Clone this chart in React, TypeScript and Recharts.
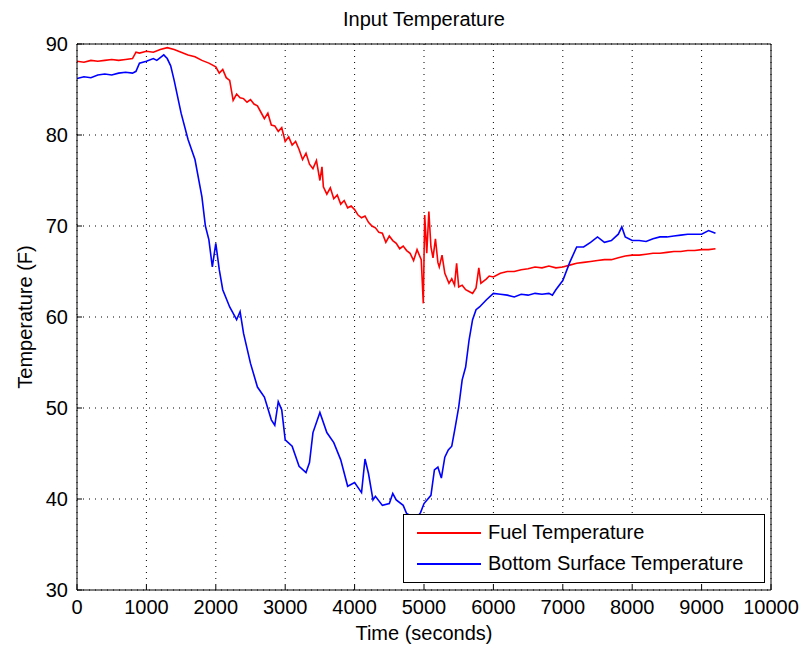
import React from "react";
import {
    LineChart,
    Line,
    XAxis,
    YAxis,
    CartesianGrid,
    Legend,
    Label,
} from "recharts";

// Fuel temperature (red)
const fuelTime = [
    0, 100, 200, 300, 400, 500, 600, 700, 800, 850, 900, 1000, 1100, 1200, 1300, 1400, 1500, 1600, 1700,
    1800, 1900, 2000, 2050, 2100, 2150, 2200, 2250, 2300, 2350, 2400, 2450, 2500, 2550, 2600, 2650, 2700,
    2750, 2800, 2850, 2900, 2950, 3000, 3050, 3100, 3150, 3200, 3250, 3300, 3350, 3400, 3450, 3500, 3530,
    3550, 3600, 3650, 3700, 3750, 3800, 3850, 3900, 3950, 4000, 4050, 4100, 4150, 4200, 4250, 4300, 4350,
    4400, 4450, 4500, 4550, 4600, 4650, 4700, 4750, 4800, 4850, 4900, 4960, 4990, 5010, 5040, 5070, 5100,
    5130, 5165, 5200, 5220, 5260, 5300, 5360, 5400, 5440, 5470, 5500, 5550, 5600, 5650, 5700, 5750, 5790,
    5820, 5900, 5940, 6000, 6100, 6200, 6300, 6400, 6500, 6600, 6700, 6800, 6900, 7000, 7100, 7200, 7300,
    7400, 7500, 7600, 7700, 7800, 7900, 8000, 8100, 8200, 8300, 8400, 8500, 8600, 8700, 8800, 8900, 9000,
    9100, 9200,
];
const fuelTemp = [
    88.1, 88.0, 88.2, 88.1, 88.2, 88.3, 88.2, 88.3, 88.4, 89.1, 89.0, 89.2, 89.1, 89.4, 89.6, 89.4, 89.1, 88.8, 88.6,
    88.2, 87.9, 87.5, 86.8, 87.2, 86.3, 86.0, 83.8, 84.5, 84.1, 84.0, 83.6, 83.9, 83.4, 83.2, 82.5, 81.8,
    82.4, 81.1, 81.0, 80.4, 80.8, 79.3, 79.8, 78.9, 79.3, 78.4, 77.3, 78.0, 76.8, 76.3, 77.2, 75.0, 76.5,
    74.3, 73.5, 74.2, 73.0, 73.4, 72.4, 72.8, 72.0, 72.2, 71.8, 71.2, 70.9, 71.1, 70.4, 70.0, 69.8, 69.3,
    69.2, 68.2, 68.9, 68.4, 68.1, 67.5, 67.8, 67.3, 67.0, 66.2, 67.4, 66.3, 61.5, 71.2, 67.0, 71.6, 67.7,
    66.5, 68.6, 66.0, 65.5, 66.8, 64.8, 63.7, 64.2, 63.5, 65.9, 63.3, 63.5, 63.0, 62.8, 62.6, 63.2, 65.4,
    63.7, 64.2, 64.5, 64.4, 64.8, 65.0, 65.0, 65.2, 65.3, 65.5, 65.4, 65.6, 65.4, 65.5, 65.7, 65.9, 66.0,
    66.1, 66.2, 66.3, 66.3, 66.5, 66.7, 66.8, 66.8, 66.9, 67.0, 67.0, 67.1, 67.2, 67.2, 67.3, 67.3, 67.4,
    67.4, 67.5,
];

// Bottom surface temperature (blue)
const surfaceTime = [
    0, 100, 200, 300, 400, 500, 600, 700, 800, 850, 900, 1000, 1100, 1150, 1200, 1250, 1300, 1350, 1400,
    1500, 1600, 1700, 1800, 1850, 1900, 1950, 2000, 2050, 2100, 2200, 2300, 2350, 2400, 2500, 2600, 2700,
    2800, 2850, 2900, 2950, 3000, 3100, 3200, 3300, 3350, 3400, 3500, 3600, 3700, 3800, 3900, 4000, 4100,
    4150, 4200, 4265, 4300, 4400, 4500, 4550, 4600, 4700, 4750, 4800, 4900, 4950, 5000, 5100, 5150, 5200,
    5250, 5300, 5350, 5400, 5450, 5500, 5550, 5600, 5650, 5700, 5750, 5800, 5900, 6000, 6100, 6200, 6300,
    6400, 6500, 6600, 6700, 6800, 6850, 6900, 7000, 7100, 7200, 7300, 7400, 7500, 7600, 7700, 7800, 7850,
    7900, 8000, 8100, 8200, 8300, 8400, 8500, 8600, 8700, 8800, 8900, 9000, 9100, 9200,
];
const surfaceTemp = [
    86.2, 86.4, 86.3, 86.6, 86.7, 86.6, 86.8, 86.9, 86.8, 87.0, 87.9, 88.1, 88.4, 88.2, 88.5, 88.8, 88.4, 87.6, 86.0,
    82.4, 79.5, 77.3, 73.2, 70.0, 68.5, 65.5, 68.1, 65.2, 63.0, 61.1, 59.7, 60.6, 58.2, 54.9, 52.3, 51.2,
    48.7, 48.1, 50.7, 49.8, 46.5, 45.8, 43.6, 42.9, 44.0, 47.3, 49.5, 47.3, 46.2, 44.3, 41.4, 41.8, 40.7,
    44.4, 42.8, 39.9, 40.3, 39.3, 39.5, 40.6, 39.9, 39.3, 38.4, 38.2, 38.0, 38.5, 39.5, 40.4, 43.2, 43.5,
    42.3, 44.6, 45.4, 45.8, 47.9, 50.1, 53.1, 54.5, 57.5, 59.7, 60.8, 61.1, 61.9, 62.6, 62.5, 62.4, 62.2,
    62.5, 62.4, 62.6, 62.5, 62.6, 62.4, 63.0, 64.0, 66.0, 67.7, 67.7, 68.2, 68.8, 68.2, 68.4, 69.1, 69.9,
    68.8, 68.4, 68.4, 68.3, 68.6, 68.8, 68.8, 68.9, 69.0, 69.1, 69.1, 69.1, 69.5, 69.2,
];

const seriesNames = ["Fuel Temperature", "Bottom Surface Temperature"];
const xTicks = [0, 1000, 2000, 3000, 4000, 5000, 6000, 7000, 8000, 9000, 10000];
const yTicks = [30, 40, 50, 60, 70, 80, 90];

const fuelData = fuelTime.map((t, i) => ({ time: t, temp: fuelTemp[i] }));
const surfaceData = surfaceTime.map((t, i) => ({ time: t, temp: surfaceTemp[i] }));

const FONT = "'Liberation Sans', Arial, Helvetica, sans-serif";
const tickStyle = { fill: "#000", fontSize: 20, fontFamily: FONT };

const LegendBox = ({ payload }: any) => {
    // keep plotting order (Fuel first), not alphabetical
    const items = [...(payload || [])].sort(
        (a: any, b: any) => seriesNames.indexOf(a.value) - seriesNames.indexOf(b.value)
    );
    return (
        <div
            style={{
                width: 360,
                height: 65,
                border: "1px solid #000",
                background: "#fff",
                fontFamily: FONT,
                fontSize: 20,
                color: "#000",
                paddingTop: 2,
                boxSizing: "content-box",
            }}
        >
            {items.map((entry: any) => (
                <div key={entry.value} style={{ display: "flex", alignItems: "center", height: 31 }}>
                    <div style={{ width: 64, height: 2, background: entry.color, marginLeft: 13, marginRight: 7 }} />
                    <span>{entry.value}</span>
                </div>
            ))}
        </div>
    );
};

export default function App() {
    return (
        <div style={{ position: "absolute", left: 0, top: 0, width: 809, height: 655, background: "#fff" }}>
            <LineChart width={809} height={655} margin={{ top: 0, right: 0, bottom: 0, left: 0 }}>
                <CartesianGrid stroke="#000" strokeDasharray="1 5" />
                <XAxis
                    dataKey="time"
                    type="number"
                    domain={[0, 10000]}
                    ticks={xTicks}
                    interval={0}
                    height={65}
                    allowDataOverflow
                    stroke="#000"
                    tickSize={-5}
                    tickMargin={15}
                    tick={tickStyle}
                >
                    <Label
                        content={({ viewBox }: any) => (
                            <text
                                x={viewBox.x + viewBox.width / 2}
                                y={640}
                                textAnchor="middle"
                                fontSize={20}
                                fontFamily={FONT}
                                fill="#000"
                            >
                                Time (seconds)
                            </text>
                        )}
                    />
                </XAxis>
                <XAxis
                    xAxisId="top"
                    orientation="top"
                    type="number"
                    domain={[0, 10000]}
                    ticks={xTicks}
                    interval={0}
                    height={44}
                    stroke="#000"
                    tickSize={-5}
                    tick={false}
                >
                    <Label
                        content={({ viewBox }: any) => (
                            <text
                                x={viewBox.x + viewBox.width / 2}
                                y={26}
                                textAnchor="middle"
                                fontSize={20}
                                fontFamily={FONT}
                                fill="#000"
                            >
                                Input Temperature
                            </text>
                        )}
                    />
                </XAxis>
                <YAxis
                    type="number"
                    domain={[30, 90]}
                    ticks={yTicks}
                    interval={0}
                    width={77}
                    allowDataOverflow
                    stroke="#000"
                    tickSize={-5}
                    tickMargin={14}
                    tick={tickStyle}
                >
                    <Label
                        content={({ viewBox }: any) => (
                            <text
                                x={25}
                                y={viewBox.y + viewBox.height / 2}
                                transform={`rotate(-90 25 ${viewBox.y + viewBox.height / 2})`}
                                textAnchor="middle"
                                dominantBaseline="central"
                                fontSize={20}
                                fontFamily={FONT}
                                fill="#000"
                            >
                                Temperature (F)
                            </text>
                        )}
                    />
                </YAxis>
                <YAxis
                    yAxisId="right"
                    orientation="right"
                    type="number"
                    domain={[30, 90]}
                    ticks={yTicks}
                    interval={0}
                    width={38}
                    stroke="#000"
                    tickSize={-5}
                    tick={false}
                />
                <Legend
                    layout="vertical"
                    align="center"
                    verticalAlign="middle"
                    wrapperStyle={{ left: 403, top: 514, width: "auto" }}
                    content={<LegendBox />}
                />
                <Line
                    data={fuelData}
                    dataKey="temp"
                    name={seriesNames[0]}
                    type="linear"
                    stroke="#ff0000"
                    strokeWidth={1.6}
                    dot={false}
                    activeDot={false}
                    isAnimationActive={false}
                />
                <Line
                    data={surfaceData}
                    dataKey="temp"
                    name={seriesNames[1]}
                    type="linear"
                    stroke="#0000ff"
                    strokeWidth={1.6}
                    dot={false}
                    activeDot={false}
                    isAnimationActive={false}
                />
            </LineChart>
        </div>
    );
}
